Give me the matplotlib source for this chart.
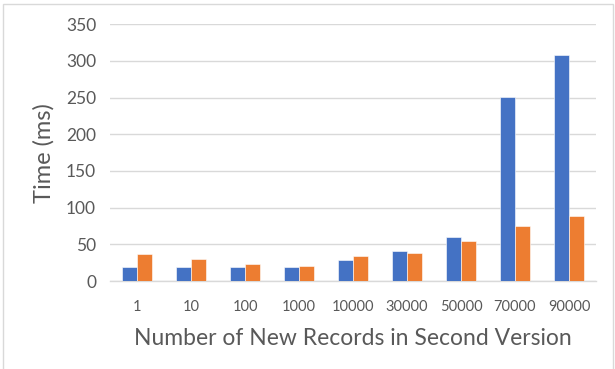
import numpy as np
import matplotlib.pyplot as plt
from matplotlib.patches import Rectangle

plt.rcParams['font.family'] = ['Lato', 'DejaVu Sans']

# tempos medidos (ms) por numero de registros novos
categorias = ['1', '10', '100', '1000', '10000', '30000', '50000', '70000', '90000']
tempo_azul = [19.5, 18.5, 18.8, 19.2, 28.8, 41, 60.5, 251.5, 308.5]
tempo_laranja = [37, 29.5, 22.8, 20.5, 34, 38.8, 55, 74.5, 89]

cor_texto = '#595959'

fig = plt.figure(figsize=(6.15, 3.69), dpi=100)
ax = fig.add_axes([110 / 615, 1 - 281 / 369, 486 / 615, (281 - 24.3) / 369])

x = np.arange(len(categorias))
largura = 0.285
ax.bar(x - largura / 2, tempo_azul, largura, color='#4472C4',
       edgecolor='white', linewidth=0.4, zorder=3)
ax.bar(x + largura / 2, tempo_laranja, largura, color='#ED7D31',
       edgecolor='white', linewidth=0.4, zorder=3)

ax.set_xlim(-0.5, len(categorias) - 0.5)
ax.set_ylim(0, 350)
ax.set_yticks(np.arange(0, 351, 50))
ax.set_xticks(x)
ax.set_xticklabels(categorias)

ax.grid(axis='y', color='#D9D9D9', linewidth=1.0, zorder=0)
for lado in ['top', 'right', 'left']:
    ax.spines[lado].set_visible(False)
ax.spines['bottom'].set_color('#D9D9D9')
ax.spines['bottom'].set_linewidth(1.0)

ax.tick_params(axis='both', length=0, colors=cor_texto)
ax.tick_params(axis='y', labelsize=12.5, pad=10)
ax.tick_params(axis='x', labelsize=10.5, pad=14)

ax.set_ylabel('Time (ms)', fontsize=17, color=cor_texto, labelpad=8)
ax.set_xlabel('Number of New Records in Second Version', fontsize=16.5,
              color=cor_texto, labelpad=10)

# moldura cinza do grafico
fig.patches.append(Rectangle((2.5 / 615, -0.05), (613 - 2.5) / 615, 1.05 - 3.5 / 369,
                             transform=fig.transFigure, fill=False,
                             edgecolor='#D9D9D9', linewidth=1.0))

fig.savefig('out.png', dpi=100)
